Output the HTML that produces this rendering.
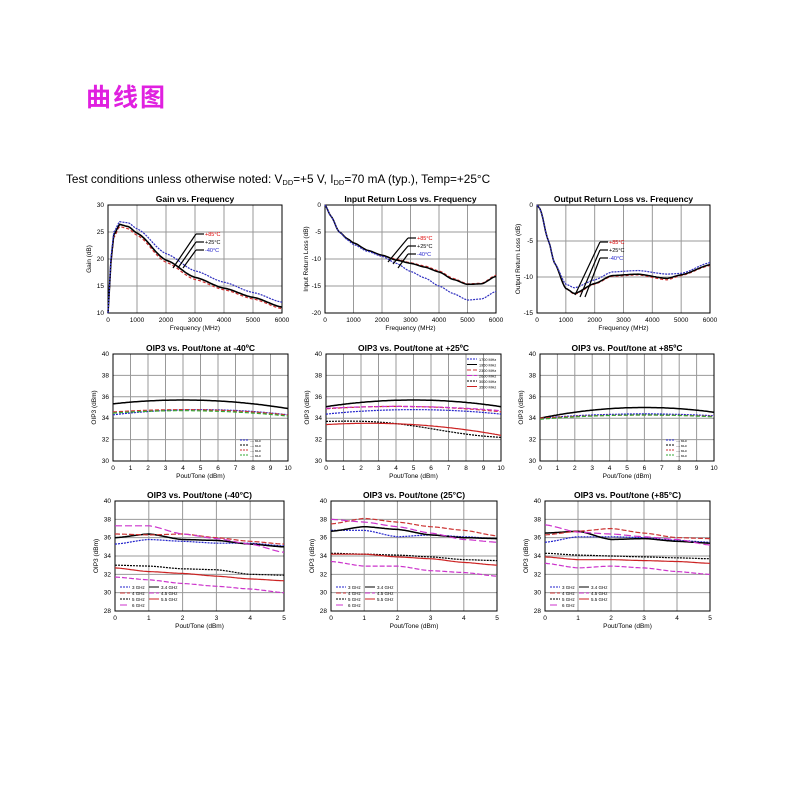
<!DOCTYPE html><html><head><meta charset="utf-8"><style>
body{margin:0;background:#fff;width:800px;height:800px;overflow:hidden;font-family:"Liberation Sans",sans-serif}
svg text{font-family:"Liberation Sans",sans-serif}
</style></head><body>
<svg id="s" width="800" height="800" xmlns="http://www.w3.org/2000/svg">
<text x="86" y="106" font-size="25" font-weight="bold" fill="#e020e0" letter-spacing="2" style="font-family:'Liberation Sans','Noto Sans CJK SC',sans-serif">曲线图</text>
<text x="66" y="183" font-size="11.8" fill="#000">Test conditions unless otherwise noted: V<tspan font-size="7.5" dy="2">DD</tspan><tspan dy="-2">=+5 V, I</tspan><tspan font-size="7.5" dy="2">DD</tspan><tspan dy="-2">=70 mA (typ.), Temp=+25°C</tspan></text>
</svg>
<script>
const S=document.getElementById('s');let h='';
function P(xs,ys){return v=>{if(v<=xs[0])return ys[0];for(let i=1;i<xs.length;i++){if(v<=xs[i]){const t=(v-xs[i-1])/(xs[i]-xs[i-1]);const u=(1-Math.cos(t*Math.PI))/2;const l=ys[i-1]+(ys[i]-ys[i-1])*t,c=ys[i-1]+(ys[i]-ys[i-1])*u;return 0.5*l+0.5*c}}return ys[ys.length-1]}}
function chart(c){const{x0,x1,y0,y1,xmin,xmax,ymin,ymax,xs,ys,title,xl,yl,series}=c;
const X=v=>x0+(v-xmin)/(xmax-xmin)*(x1-x0),Y=v=>y1-(v-ymin)/(ymax-ymin)*(y1-y0);
h+=`<rect x="${x0}" y="${y0}" width="${x1-x0}" height="${y1-y0}" fill="#fff"/>`;
for(let v=xmin;v<=xmax+1e-9;v+=xs){h+=`<line x1="${X(v)}" x2="${X(v)}" y1="${y0}" y2="${y1}" stroke="#999" stroke-width="1"/><text x="${X(v)}" y="${y1+9}" font-size="6.5" text-anchor="middle">${v}</text>`}
for(let v=ymin;v<=ymax+1e-9;v+=ys){h+=`<line x1="${x0}" x2="${x1}" y1="${Y(v)}" y2="${Y(v)}" stroke="#999" stroke-width="1"/><text x="${x0-4}" y="${Y(v)+2}" font-size="6.5" text-anchor="end">${v}</text>`}
h+=`<rect x="${x0}" y="${y0}" width="${x1-x0}" height="${y1-y0}" fill="none" stroke="#000" stroke-width="1"/>`;
h+=`<text x="${(x0+x1)/2}" y="${y0-3}" font-size="8.5" font-weight="bold" text-anchor="middle">${title}</text>`;
h+=`<text x="${(x0+x1)/2}" y="${y1+17}" font-size="6.5" text-anchor="middle">${xl}</text>`;
h+=`<text transform="translate(${x0-17},${(y0+y1)/2}) rotate(-90)" font-size="6.5" text-anchor="middle">${yl}</text>`;
for(const s of series){const pts=[];const n=120;for(let i=0;i<=n;i++){const v=xmin+(xmax-xmin)*i/n;pts.push(X(v).toFixed(1)+','+Y(Math.max(ymin,Math.min(ymax,s.f(v)))).toFixed(1))}
h+=`<polyline points="${pts.join(' ')}" fill="none" stroke="${s.c}" stroke-width="${s.w||1.2}" ${s.d?`stroke-dasharray="${s.d}"`:''}/>`}
return{X,Y}}
const F=[0,100,200,400,700,1000,2000,3000,4000,5000,6000];
const g=(a)=>P(F,a);
chart({x0:108,x1:282,y0:205,y1:313,xmin:0,xmax:6000,ymin:10,ymax:30,xs:1000,ys:5,title:'Gain vs. Frequency',xl:'Frequency (MHz)',yl:'Gain (dB)',series:[
{f:g([10,19,24,26,25.6,24.4,19.4,16.2,14.3,12.6,10.8]),c:'#d03030',d:'3,2'},
{f:g([10,19.5,24.5,26.4,26,24.8,19.8,16.6,14.6,12.9,11.1]),c:'#000',w:1.6},
{f:g([10,20,25,26.9,26.7,25.6,21,17.8,15.7,13.8,12]),c:'#3030c0',d:'2,1'}]});
function lbl(x,y,tx,ty){const L=[['+85°C','#d00'],['+25°C','#000'],['-40°C','#22c']];L.forEach((l,i)=>{h+=`<line x1="${tx[i]}" y1="${ty[i]}" x2="${x}" y2="${y+i*8}" stroke="#000" stroke-width="1.2"/><line x1="${x}" y1="${y+i*8}" x2="${x+8}" y2="${y+i*8}" stroke="#000" stroke-width="1.2"/><text x="${x+9}" y="${y+i*8+2}" font-size="5.5" fill="${l[1]}">${l[0]}</text>`})}
lbl(196,234,[173,178,183],[268,268,268]);
const FI=[0,200,500,800,1000,1500,2000,2500,3000,3500,4000,4500,5000,5500,6000];
chart({x0:325,x1:496,y0:205,y1:313,xmin:0,xmax:6000,ymin:-20,ymax:0,xs:1000,ys:5,title:'Input Return Loss vs. Frequency',xl:'Frequency (MHz)',yl:'Input Return Loss (dB)',series:[
{f:P(FI,[0,-2,-5,-6.3,-7,-8.4,-9.4,-10,-10.7,-11.3,-12.2,-13.6,-14.6,-14.5,-13]),c:'#d03030',d:'3,2'},
{f:P(FI,[0,-2,-5,-6.3,-7,-8.4,-9.3,-10.2,-10.8,-11.5,-12.4,-13.8,-14.7,-14.6,-13.2]),c:'#000',w:1.5},
{f:P(FI,[0,-2,-5,-6.5,-7.3,-8.6,-9.5,-10.8,-12.3,-13.5,-15,-16.4,-17.6,-17.4,-16]),c:'#3030c0',d:'2,1'}]});
lbl(408,238,[388,393,398],[262,264,268]);
const FO=[0,100,400,600,1000,1300,2000,2600,3500,4500,5000,6000];
chart({x0:537,x1:710,y0:205,y1:313,xmin:0,xmax:6000,ymin:-15,ymax:0,xs:1000,ys:5,title:'Output Return Loss vs. Frequency',xl:'Frequency (MHz)',yl:'Output Return Loss (dB)',series:[
{f:P(FO,[0,-0.5,-5,-8,-11.6,-12.4,-11,-9.9,-9.7,-10.4,-9.8,-8.4]),c:'#d03030',d:'3,2'},
{f:P(FO,[0,-0.5,-5,-8,-11.6,-12.3,-10.9,-9.8,-9.6,-10.2,-9.7,-8.3]),c:'#000',w:1.5},
{f:P(FO,[0,-0.5,-5,-8,-11,-11.5,-10.4,-9.3,-9.1,-9.6,-9.5,-8]),c:'#3030c0',d:'2,1'}]});
lbl(600,242,[575,580,585],[295,297,297]);
const arc=(a,p,pk)=>v=>a+p*(1-Math.pow((v-pk)/6,2));
const s2=[{f:arc(34.2,0.6,5),c:'#22c',d:'2,1'},{f:arc(34.8,0.9,5),c:'#000',w:1.5},{f:arc(34.6,0.5,4),c:'#c33',d:'4,2'},{f:arc(34.7,0.4,4),c:'#c3c',d:'5,2'},{f:v=>33.7+0.3*Math.sin(v/2)-0.12*v,c:'#000',d:'2,1'},{f:v=>33.4+0.1*v-0.02*v*v,c:'#c22'}];
chart({x0:113,x1:288,y0:354,y1:461,xmin:0,xmax:10,ymin:30,ymax:40,xs:1,ys:2,title:'OIP3 vs. Pout/tone at -40ºC',xl:'Pout/Tone (dBm)',yl:'OIP3 (dBm)',series:[
{f:arc(34.1,0.7,5),c:'#22c',d:'2,1'},{f:arc(34.9,0.8,4),c:'#000',w:1.5},{f:arc(34.3,0.5,4),c:'#c33',d:'4,2'},{f:arc(34.2,0.5,4),c:'#3a3',d:'4,2'}]});
chart({x0:326,x1:501,y0:354,y1:461,xmin:0,xmax:10,ymin:30,ymax:40,xs:1,ys:2,title:'OIP3 vs. Pout/tone at +25ºC',xl:'Pout/Tone (dBm)',yl:'OIP3 (dBm)',series:s2});
chart({x0:540,x1:714,y0:354,y1:461,xmin:0,xmax:10,ymin:30,ymax:40,xs:1,ys:2,title:'OIP3 vs. Pout/tone at +85ºC',xl:'Pout/Tone (dBm)',yl:'OIP3 (dBm)',series:[
{f:arc(34.0,0.4,6),c:'#22c',d:'2,1'},{f:arc(34.0,1.0,6),c:'#000',w:1.5},{f:arc(34.0,0.3,6),c:'#c33',d:'4,2'},{f:arc(33.9,0.4,6),c:'#3a3',d:'4,2'}]});
['#22c','#000','#c33','#3a3'].forEach((c,i)=>{h+=`<line x1="240" x2="248" y1="${440+i*5}" y2="${440+i*5}" stroke="${c}" stroke-dasharray="2,1"/><text x="250" y="${442+i*5}" font-size="3">---- MHz</text><line x1="666" x2="674" y1="${440+i*5}" y2="${440+i*5}" stroke="${c}" stroke-dasharray="2,1"/><text x="676" y="${442+i*5}" font-size="3">---- MHz</text>`});
['1700 MHz','1950 MHz','2300 MHz','2600 MHz','3000 MHz','3500 MHz'].forEach((t,i)=>{const s=s2[i];h+=`<line x1="467" x2="477" y1="${359+i*5.5}" y2="${359+i*5.5}" stroke="${s.c}" ${s.d?`stroke-dasharray="${s.d}"`:''}/><text x="479" y="${361+i*5.5}" font-size="3.8">${t}</text>`});
const X5=[0,1,2,3,4,5];
function r3(x0,x1,title,d){const st=[['#22c','2,1',1.2],['#000','',1.5],['#c33','5,2',1.2],['#c3c','7,3',1.2],['#000','2,1',1.2],['#c22','',1.2],['#c3c','5,2',1.2]];
const sr=d.map((a,i)=>({f:P(X5,a),c:st[i][0],d:st[i][1],w:st[i][2]}));
chart({x0,x1,y0:501,y1:611,xmin:0,xmax:5,ymin:28,ymax:40,xs:1,ys:2,title,xl:'Pout/Tone (dBm)',yl:'OIP3 (dBm)',series:sr});
const L=[['3 GHz',0],['4 GHz',2],['5 GHz',4],['6 GHz',3]],R=[['3.4 GHz',1],['4.5 GHz',6],['5.5 GHz',5]];
L.forEach((l,i)=>{const y=587+i*6,s=st[l[1]];h+=`<line x1="${x0+5}" x2="${x0+15}" y1="${y}" y2="${y}" stroke="${s[0]}" stroke-dasharray="${s[1]}"/><text x="${x0+17}" y="${y+2}" font-size="4.5">${l[0]}</text>`});
R.forEach((l,i)=>{const y=587+i*6,s=st[l[1]];h+=`<line x1="${x0+34}" x2="${x0+44}" y1="${y}" y2="${y}" stroke="${s[0]}" ${s[1]?`stroke-dasharray="${s[1]}"`:''}/><text x="${x0+46}" y="${y+2}" font-size="4.5">${l[0]}</text>`});}
r3(115,284,'OIP3 vs. Pout/tone (-40°C)',[[35.3,35.8,35.6,35.4,35.4,35.1],[36,36.4,35.8,35.7,35.3,35],[36.4,36.3,36.4,36,35.6,35.3],[37.3,37.3,36.4,35.9,35.3,34.4],[33,32.9,32.6,32.5,32,31.9],[32.7,32.3,32.1,31.8,31.5,31.3],[31.7,31.4,31.0,30.7,30.4,30.0]]);
r3(331,497,'OIP3 vs. Pout/tone (25°C)',[[36.8,36.8,36.1,36.3,36.1,35.9],[36.7,37.2,36.9,36.3,36.0,35.9],[37.5,38.1,37.7,37.2,36.8,36.2],[38,37.7,37.2,36.5,35.8,35.5],[34.3,34.2,34.1,33.9,33.6,33.5],[34.2,34.2,33.9,33.7,33.3,33],[33.4,32.9,32.9,32.4,32.2,31.8]]);
r3(545,710,'OIP3 vs. Pout/tone (+85°C)',[[35.5,36.1,36.1,36.0,35.7,35.5],[36.5,36.7,35.8,35.9,35.6,35.4],[36.3,36.7,37.0,36.5,36,35.9],[37.4,36.6,36.4,36.1,35.8,35.2],[34.3,34.1,34.0,33.9,33.8,33.7],[33.9,33.6,33.6,33.5,33.4,33.2],[33.2,32.7,32.9,32.7,32.3,32.0]]);
S.insertAdjacentHTML('beforeend',h);
</script></body></html>
